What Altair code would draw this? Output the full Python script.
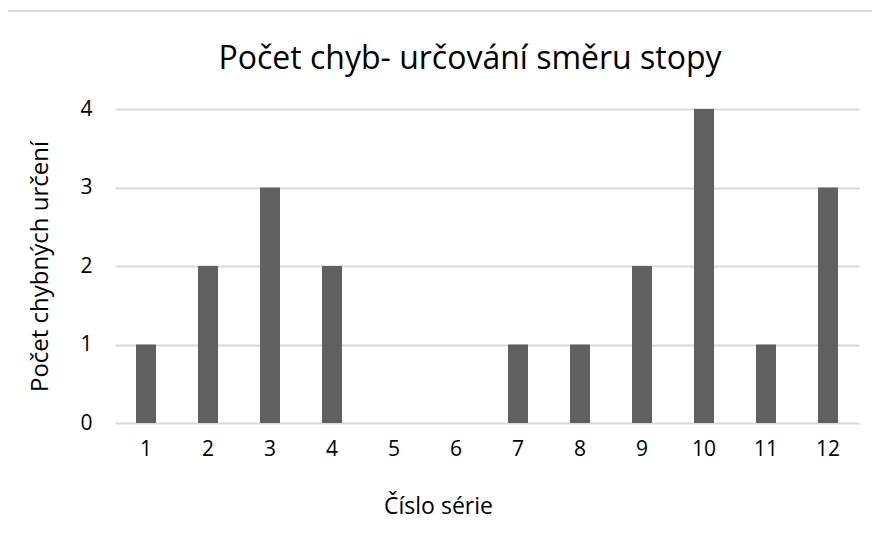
import altair as alt
import pandas as pd

series = ["1", "2", "3", "4", "5", "6", "7", "8", "9", "10", "11", "12"]
errors = [1, 2, 3, 2, 0, 0, 1, 1, 2, 4, 1, 3]

df = pd.DataFrame({"serie": series, "chyby": errors})

FONT = "Open Sans"
W, H = 744, 314

bars = alt.Chart(df).mark_bar(color="#606060", size=20).encode(
    x=alt.X("serie:N", sort=series,
            scale=alt.Scale(paddingInner=0.68, paddingOuter=0.34),
            axis=alt.Axis(title="Číslo série", labelAngle=0, labelFontSize=21,
                          labelColor="#000", labelFont=FONT, labelPadding=15,
                          titleFont=FONT, titleFontSize=23, titleFontWeight="normal",
                          titleColor="#000", titlePadding=36, titleX=323,
                          titleAlign="center", domain=False, ticks=False, grid=False)),
    y=alt.Y("chyby:Q", scale=alt.Scale(domain=[0, 4]),
            axis=alt.Axis(title="Počet chybných určení", values=[0, 1, 2, 3, 4],
                          labelFontSize=21, labelColor="#000", labelFont=FONT,
                          labelPadding=23, titleFont=FONT, titleFontSize=24,
                          titleFontWeight="normal", titleColor="#000", titlePadding=27,
                          domain=False, ticks=False, gridColor="#d9d9d9", gridWidth=2)),
)

border = alt.Chart(df).mark_rule(color="#d9d9d9", strokeWidth=2).encode(
    x=alt.value(-108), x2=alt.value(W + 200), y=alt.value(-98)
)
border_left = alt.Chart(df).mark_rule(color="#d9d9d9", strokeWidth=2).encode(
    x=alt.value(-108), y=alt.value(-98), y2=alt.value(H + 200)
)

chart = alt.layer(border, border_left, bars).properties(
    width=W, height=H,
    title=alt.TitleParams("Počet chyb- určování směru stopy", font=FONT, fontSize=32,
                          fontWeight="normal", color="#000", anchor="middle", offset=-66,
                          dx=-17),
    autosize=alt.AutoSizeParams(type="none"),
    padding={"left": 107, "top": 101, "right": 13, "bottom": 105},
).configure_view(stroke=None)

chart.save("out.html", embed_options={"renderer": "svg", "actions": False})
